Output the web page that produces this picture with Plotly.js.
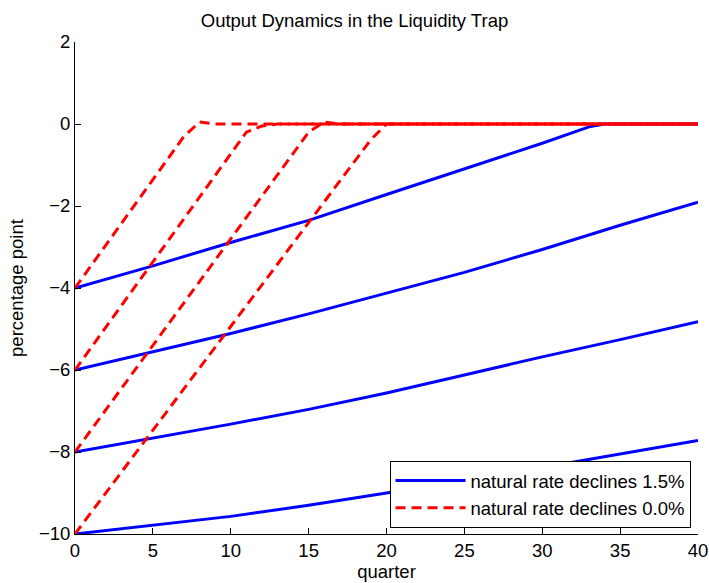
<!DOCTYPE html>
<html>
<head>
<meta charset="utf-8">
<script src="https://cdn.plot.ly/plotly-3.0.1.min.js"></script>
<style>html,body{margin:0;padding:0;background:#fff;}#chart{width:709px;height:583px;}</style>
</head>
<body>
<div id="chart"></div>
<script>
// Blue: natural rate declines 1.5%
const blueX = [0, 5, 10, 15, 20, 25, 30, 33, 34, 35, 40];
const blue1 = [-4, -3.46, -2.89, -2.35, -1.72, -1.1, -0.47, -0.07, 0, 0, 0];
const blueX2 = [0, 5, 10, 15, 20, 25, 30, 35, 40];
const blue2 = [-6, -5.56, -5.11, -4.63, -4.13, -3.62, -3.06, -2.47, -1.91];
const blue3 = [-8, -7.66, -7.32, -6.96, -6.56, -6.12, -5.68, -5.26, -4.82];
const blue4 = [-10, -9.79, -9.57, -9.3, -9.0, -8.7, -8.38, -8.05, -7.72];

// Red: natural rate declines 0.0%
const redAx = [0, 6, 7, 8, 9, 40];
const redAy = [-4, -0.85, -0.3, 0.05, 0, 0];
const redBx = [0, 10, 11, 12, 13, 40];
const redBy = [-6, -0.7, -0.2, -0.05, 0, 0];
const redCx = [0, 14, 15, 16, 17, 40];
const redCy = [-8, -0.72, -0.2, 0.05, 0, 0];
const redDx = [0, 18, 19, 20, 40];
const redDy = [-10, -0.9, -0.38, 0, 0];

const legendNames = ['natural rate declines 1.5%', 'natural rate declines 0.0%'];
const xTicks = [0, 5, 10, 15, 20, 25, 30, 35, 40];
const yTicks = [-10, -8, -6, -4, -2, 0, 2];

const blueLine = {color: '#0000ff', width: 3};
const redLine = {color: '#ff0000', width: 3, dash: '10px,6px'};

const traces = [
  {x: blueX, y: blue1, name: legendNames[0], legendgroup: 'b', showlegend: true},
  {x: blueX2, y: blue2, name: legendNames[0], legendgroup: 'b', showlegend: false},
  {x: blueX2, y: blue3, name: legendNames[0], legendgroup: 'b', showlegend: false},
  {x: blueX2, y: blue4, name: legendNames[0], legendgroup: 'b', showlegend: false}
].map(t => Object.assign(t, {type: 'scatter', mode: 'lines', line: blueLine}));

const redTraces = [
  {x: redAx, y: redAy, showlegend: true},
  {x: redBx, y: redBy, showlegend: false},
  {x: redCx, y: redCy, showlegend: false},
  {x: redDx, y: redDy, showlegend: false}
].map(t => Object.assign(t, {type: 'scatter', mode: 'lines', name: legendNames[1], legendgroup: 'r', line: redLine}));

const font = {family: 'Liberation Sans, Arial, Helvetica, sans-serif', color: '#000'};
const fs = 18.5;

const layout = {
  width: 709, height: 583,
  margin: {l: 75, r: 11, t: 42, b: 49},
  paper_bgcolor: '#fff', plot_bgcolor: '#fff',
  font: Object.assign({size: fs}, font),
  title: {text: 'Output Dynamics in the Liquidity Trap', font: Object.assign({size: fs}, font), x: 0.5, xanchor: 'center', y: 0.965, yanchor: 'middle'},
  showlegend: true,
  legend: {
    x: 0.988, xanchor: 'right', y: 0.012, yanchor: 'bottom',
    bgcolor: '#fff', bordercolor: '#000', borderwidth: 1,
    font: Object.assign({size: fs}, font),
    itemwidth: 70, tracegroupgap: 0
  },
  xaxis: {
    range: [0, 40], tickvals: xTicks, ticktext: xTicks.map(String),
    showgrid: false, zeroline: false, showline: true, linecolor: '#000', linewidth: 1,
    ticks: 'inside', ticklen: 6, tickcolor: '#000', mirror: false,
    tickfont: Object.assign({size: fs}, font),
    title: {text: 'quarter', font: Object.assign({size: fs}, font), standoff: 0}
  },
  yaxis: {
    range: [-10, 2], tickvals: yTicks,
    showgrid: false, zeroline: false, showline: true, linecolor: '#000', linewidth: 1,
    ticks: 'inside', ticklen: 6, tickcolor: '#000', mirror: false,
    tickfont: Object.assign({size: fs}, font),
    title: {text: 'percentage point', font: Object.assign({size: fs}, font), standoff: 10}
  }
};

Plotly.newPlot('chart', traces.concat(redTraces), layout, {displayModeBar: false, staticPlot: true});
</script>
</body>
</html>
